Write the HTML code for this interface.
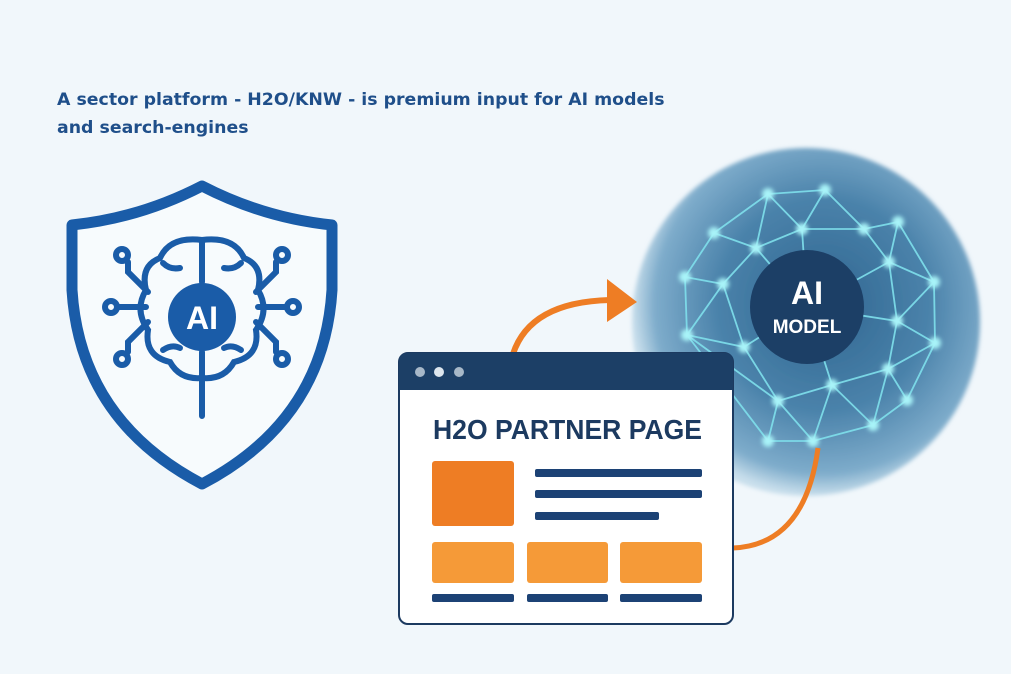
<!DOCTYPE html>
<html><head><meta charset="utf-8"><style>
html,body{margin:0;padding:0}
body{width:1011px;height:674px;overflow:hidden;background:#f1f7fb;font-family:"Liberation Sans",sans-serif;position:relative}
.t{position:absolute;left:57px;color:#1f4f8a;font-weight:bold;font-size:17px;font-family:"DejaVu Sans",sans-serif;transform:scaleX(1.02);transform-origin:left top;white-space:nowrap}
</style></head><body>
<div class="t" style="top:90px">A sector platform - H2O/KNW - is premium input for AI models</div>
<div class="t" style="top:118px">and search-engines</div>
<svg width="1011" height="674" style="position:absolute;left:0;top:0">
<defs>
<radialGradient id="g" cx="0.55" cy="0.45" r="0.55">
<stop offset="0" stop-color="#2f6590"/><stop offset="0.55" stop-color="#4a82aa"/><stop offset="0.88" stop-color="#7eaccb"/><stop offset="1" stop-color="#c9dfec"/>
</radialGradient>
<filter id="glow"><feGaussianBlur stdDeviation="2"/></filter>
<filter id="soft"><feGaussianBlur stdDeviation="2"/></filter>
</defs>
<path d="M202,186 Q140,218 72,225 L72,290 Q80,420 202,484 Q324,420 332,290 L332,225 Q264,218 202,186 Z" fill="#f7fbfd" stroke="#1a5ca8" stroke-width="11" stroke-linejoin="round"/>
<g stroke="#1a5ca8" stroke-width="6" fill="none" stroke-linecap="round">
<path d="M202,240 Q170,236 160,258 Q140,266 146,290 Q134,310 148,330 Q144,356 170,362 Q180,380 202,378"/>
<path d="M202,240 Q234,236 244,258 Q264,266 258,290 Q270,310 256,330 Q260,356 234,362 Q224,380 202,378"/>
<path d="M202,240 V282 M202,352 V416"/>
<path d="M163,263 Q170,270 180,268 M241,263 Q234,270 224,268 M163,350 Q172,344 180,348 M241,350 Q232,344 224,348"/>
<path d="M148,292 L128,272 L128,262 M256,292 L276,272 L276,262"/>
<path d="M146,307 H118 M258,307 H286"/>
<path d="M148,322 L128,342 L128,352 M256,322 L276,342 L276,352"/>
<circle cx="122" cy="255" r="6"/><circle cx="282" cy="255" r="6"/>
<circle cx="111" cy="307" r="6"/><circle cx="293" cy="307" r="6"/>
<circle cx="122" cy="359" r="6"/><circle cx="282" cy="359" r="6"/>
</g>
<circle cx="202" cy="317" r="34" fill="#1a5ca8"/>
<text x="202" y="329" fill="#fff" font-size="32" font-weight="bold" text-anchor="middle" font-family="Liberation Sans">AI</text>
<circle cx="806" cy="322" r="174" fill="url(#g)" filter="url(#soft)"/>
<g stroke="#7fe0ec" stroke-width="1.8" fill="none" opacity="0.9">
<path d="M768,194 L825,190 L802,229 L768,194 L714,233 L756,248 L802,229 L864,229 L898,222 L889,262 L864,229 L825,190"/>
<path d="M714,233 L685,277 L723,284 L756,248 L768,194 M685,277 L687,335 L723,284 L744,347 L687,335 L778,401 L744,347"/>
<path d="M898,222 L934,282 L889,262 L897,321 L934,282 L935,343 L897,321 L888,369 L935,343 L907,400 L888,369 L873,425 L907,400"/>
<path d="M888,369 L832,385 L873,425 L813,441 L832,385 L778,401 L813,441 L768,441 L778,401 M687,335 L768,441"/>
<path d="M756,248 L807,307 M889,262 L807,307 M897,321 L807,307 M744,347 L807,307 M832,385 L807,307 M802,229 L807,307"/>
</g>
<g fill="#a8f3f8" filter="url(#glow)">
<circle cx="768" cy="194" r="6"/><circle cx="825" cy="190" r="6"/><circle cx="714" cy="233" r="6"/><circle cx="802" cy="229" r="6"/><circle cx="864" cy="229" r="6"/><circle cx="898" cy="222" r="6"/><circle cx="756" cy="248" r="6"/><circle cx="889" cy="262" r="6"/><circle cx="685" cy="277" r="6"/><circle cx="723" cy="284" r="6"/><circle cx="934" cy="282" r="6"/><circle cx="897" cy="321" r="6"/><circle cx="687" cy="335" r="6"/><circle cx="744" cy="347" r="6"/><circle cx="935" cy="343" r="6"/><circle cx="888" cy="369" r="6"/><circle cx="832" cy="385" r="6"/><circle cx="778" cy="401" r="6"/><circle cx="907" cy="400" r="6"/><circle cx="873" cy="425" r="6"/><circle cx="768" cy="441" r="6"/><circle cx="813" cy="441" r="6"/>
</g>
<circle cx="807" cy="307" r="57" fill="#1c3f66"/>
<text x="807" y="304" fill="#fff" font-size="32" font-weight="bold" text-anchor="middle" font-family="Liberation Sans">AI</text>
<text x="807" y="333" fill="#fff" font-size="19" font-weight="bold" text-anchor="middle" font-family="Liberation Sans">MODEL</text>
<path d="M513,354 Q530,302 610,300" stroke="#ee7d24" stroke-width="6" fill="none"/>
<path d="M607,279 L637,302 L607,322 Z" fill="#ee7d24"/>
<path d="M733,548 Q805,545 818,448" stroke="#ee7d24" stroke-width="5" fill="none"/>
<rect x="399" y="353" width="334" height="271" rx="9" fill="#fff" stroke="#1c3a60" stroke-width="2"/>
<path d="M399,390 V362 Q399,353 408,353 H724 Q733,353 733,362 V390 Z" fill="#1c3f66"/>
<circle cx="420" cy="372" r="5" fill="#a7b8c8"/><circle cx="439" cy="372" r="5" fill="#dde6ee"/><circle cx="459" cy="372" r="5" fill="#a7b8c8"/>
<text x="433" y="439" fill="#1c3a60" font-size="28" font-weight="bold" font-family="Liberation Sans" textLength="269" lengthAdjust="spacingAndGlyphs">H2O PARTNER PAGE</text>
<rect x="432" y="461" width="82" height="65" rx="3" fill="#ee7d24"/>
<rect x="535" y="469" width="167" height="8" rx="2" fill="#1c4275"/>
<rect x="535" y="490" width="167" height="8" rx="2" fill="#1c4275"/>
<rect x="535" y="512" width="124" height="8" rx="2" fill="#1c4275"/>
<rect x="432" y="542" width="82" height="41" rx="3" fill="#f59a38"/>
<rect x="527" y="542" width="81" height="41" rx="3" fill="#f59a38"/>
<rect x="620" y="542" width="82" height="41" rx="3" fill="#f59a38"/>
<rect x="432" y="594" width="82" height="8" rx="2" fill="#1c4275"/>
<rect x="527" y="594" width="81" height="8" rx="2" fill="#1c4275"/>
<rect x="620" y="594" width="82" height="8" rx="2" fill="#1c4275"/>
</svg>
</body></html>
